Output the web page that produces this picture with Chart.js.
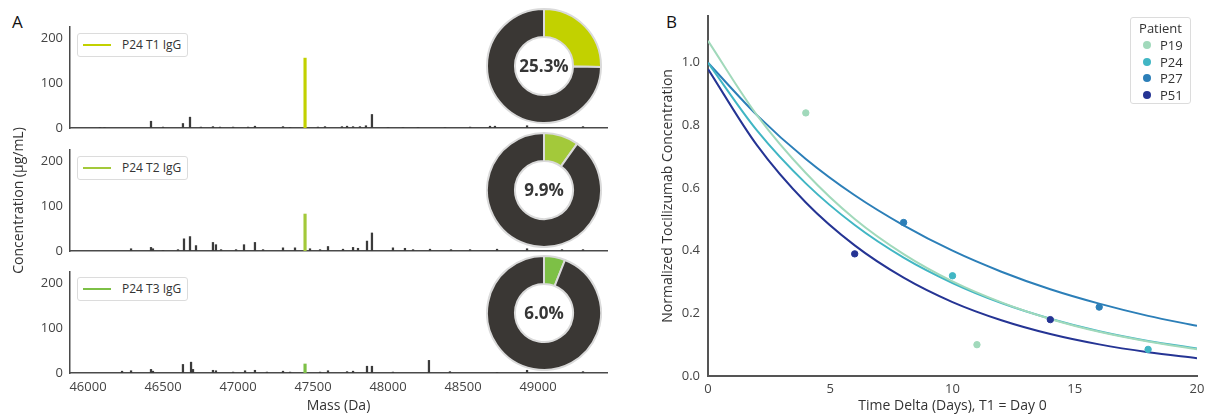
<!DOCTYPE html>
<html>
<head>
<meta charset="utf-8">
<title>IgG spectra and tocilizumab decay</title>
<script src="https://cdn.jsdelivr.net/npm/chart.js@4.4.1/dist/chart.umd.min.js"></script>
<style>
    body { margin: 0; width: 1213px; height: 414px; background: #fff; position: relative; overflow: hidden;
           font-family: "Open Sans", sans-serif; color: #333; }
    canvas { position: absolute; }
    .panel-tag { position: absolute; font-size: 17px; color: #111; line-height: 1; }
    .leg-a { position: absolute; left: 77px; width: 111px; height: 24px; border: 1px solid #dcdcdc;
             border-radius: 3px; box-sizing: border-box; font-size: 12px; background: #fff; }
    .leg-a .sw { position: absolute; left: 5px; top: 10px; width: 28px; height: 2px; }
    .leg-a .tx { position: absolute; left: 44px; top: 3px; line-height: 16px; }
    .leg-b { position: absolute; left: 1130px; top: 17px; width: 61px; height: 87px; border: 1px solid #dcdcdc;
             border-radius: 3px; box-sizing: border-box; font-size: 13px; background: #fff; }
    .leg-b .title { position: absolute; left: 0; width: 100%; top: 1px; text-align: center; line-height: 18px; }
    .leg-b .dot { position: absolute; left: 12px; width: 8px; height: 8px; border-radius: 50%; }
    .leg-b .tx { position: absolute; left: 29px; line-height: 16px; }
</style>
</head>
<body>
<div class="panel-tag" style="left:12px; top:13px;">A</div>
<div class="panel-tag" style="left:666px; top:13px;">B</div>

<canvas id="specT1" width="620" height="414" style="left:0; top:0;"></canvas>
<canvas id="specT2" width="620" height="414" style="left:0; top:0;"></canvas>
<canvas id="specT3" width="620" height="414" style="left:0; top:0;"></canvas>
<canvas id="donutT1" width="116" height="116" style="left:486px; top:8px;"></canvas>
<canvas id="donutT2" width="116" height="116" style="left:486px; top:132px;"></canvas>
<canvas id="donutT3" width="116" height="116" style="left:486px; top:255px;"></canvas>
<canvas id="decay" width="573" height="414" style="left:640px; top:0;"></canvas>

<div id="legendsA"></div>
<div class="leg-b" id="legendB"><div class="title">Patient</div></div>

<script>
// --- DATA: panel A ---
const spectraLabels = ['P24 T1 IgG', 'P24 T2 IgG', 'P24 T3 IgG'];
const spectraColors = ['#c2d100', '#a3c93a', '#7dc046'];
const drugMass = 47447;
const drugConc = [155, 82, 20];
const drugShare = [25.3, 9.9, 6.0];

// [mass (Da), concentration (µg/mL)] of the other IgG peaks
const t1Peaks = [
    [46080, 1], [46110, 1], [46420, 15], [46500, 2], [46633, 10], [46680, 24], [46753, 2],
    [46833, 3], [46880, 2], [46967, 2], [47067, 2], [47113, 4], [47300, 3], [47347, 1],
    [47533, 2], [47580, 3], [47693, 3], [47727, 4], [47767, 3], [47813, 3], [47853, 5],
    [47893, 30], [48000, 1], [48100, 1], [48200, 1], [48380, 1], [48547, 2], [48680, 4],
    [48713, 4], [48927, 5], [49300, 3]
];
const t2Peaks = [
    [46287, 5], [46420, 8], [46433, 5], [46500, 1], [46600, 3], [46640, 27], [46680, 32],
    [46720, 12], [46833, 19], [46853, 14], [46887, 3], [46987, 3], [47040, 14], [47113, 19],
    [47167, 3], [47300, 7], [47380, 7], [47480, 5], [47547, 3], [47600, 10], [47700, 4],
    [47767, 8], [47800, 6], [47860, 22], [47893, 40], [48033, 7], [48113, 6], [48167, 3],
    [48280, 4], [48420, 3], [48547, 3], [48727, 4], [48927, 5], [49160, 3], [49300, 3]
];
const t3Peaks = [
    [46227, 4], [46287, 5], [46420, 8], [46433, 4], [46633, 19], [46687, 24], [46700, 8],
    [46833, 6], [46853, 5], [46967, 2], [47047, 5], [47113, 6], [47193, 2], [47300, 4],
    [47347, 2], [47547, 2], [47600, 5], [47727, 3], [47767, 4], [47860, 15], [47893, 15],
    [48033, 2], [48273, 28], [48413, 3], [48727, 1], [48927, 6], [49300, 3]
];
const massTicks = [46000, 46500, 47000, 47500, 48000, 48500, 49000];
const concTicks = [0, 100, 200];

// --- DATA: panel B ---
const patients = ['P19', 'P24', 'P27', 'P51'];
const patientColors = ['#a1d9bb', '#41b6c4', '#2c7fb8', '#253494'];
const sampleDays = [[4, 11], [10, 18], [8, 16], [6, 14]];
const sampleConc = [[0.84, 0.10], [0.32, 0.085], [0.49, 0.22], [0.39, 0.18]];
const fitDays = [0, 2, 4, 6, 8, 10, 12, 14, 16, 18, 20];
const fitConc = [
    [1.07, 0.833, 0.648, 0.501, 0.389, 0.302, 0.235, 0.182, 0.141, 0.110, 0.085],
    [1.00, 0.784, 0.615, 0.482, 0.378, 0.297, 0.233, 0.183, 0.143, 0.112, 0.088],
    [1.00, 0.833, 0.693, 0.577, 0.481, 0.400, 0.333, 0.277, 0.231, 0.192, 0.160],
    [0.98, 0.737, 0.554, 0.417, 0.314, 0.236, 0.178, 0.134, 0.101, 0.076, 0.057]
];
const dayTicks = [0, 5, 10, 15, 20];
const normTicks = [0, 0.2, 0.4, 0.6, 0.8, 1.0];

// --- SETUP ---
Chart.defaults.font.family = '"Open Sans", sans-serif';
Chart.defaults.color = '#444';
Chart.defaults.animation = false;

const axisColor = '#4a4a4a';
const tickFont = { size: 13 };
const titleFont = { size: 14 };

const centerLabel = {
    id: 'centerLabel',
    afterDraw(chart, args, opts) {
        const { ctx, chartArea } = chart;
        ctx.save();
        ctx.font = 'bold 17px "Open Sans", sans-serif';
        ctx.fillStyle = '#363636';
        ctx.textAlign = 'center';
        ctx.textBaseline = 'middle';
        ctx.fillText(opts.text, (chartArea.left + chartArea.right) / 2, (chartArea.top + chartArea.bottom) / 2 + 1);
        ctx.restore();
    }
};

// --- PANEL A: spectra ---
const spectra = [
    { id: 'specT1', peaks: t1Peaks, padTop: 27, padBottom: 279, xHeight: 7, last: false, yTitle: false },
    { id: 'specT2', peaks: t2Peaks, padTop: 150, padBottom: 156, xHeight: 7, last: false, yTitle: true },
    { id: 'specT3', peaks: t3Peaks, padTop: 272, padBottom: 0, xHeight: 41, last: true, yTitle: false }
];

spectra.forEach((s, i) => {
    new Chart(document.getElementById(s.id), {
        type: 'bar',
        data: {
            datasets: [{
                label: spectraLabels[i],
                data: [{ x: drugMass, y: drugConc[i] }],
                backgroundColor: spectraColors[i],
                barThickness: 2.5,
                grouped: false
            }, {
                label: 'other',
                data: s.peaks.map(p => ({ x: p[0], y: p[1] })),
                backgroundColor: '#3b3b3b',
                barThickness: 1.6,
                grouped: false
            }]
        },
        options: {
            responsive: false,
            layout: { padding: { left: 11, right: 13, top: s.padTop, bottom: s.padBottom } },
            plugins: { legend: { display: false }, tooltip: { enabled: false } },
            scales: {
                x: {
                    type: 'linear', min: 45880, max: 49460, offset: false,
                    grid: { display: false, drawTicks: false },
                    border: { color: axisColor, width: 1.5 },
                    ticks: { display: s.last, font: tickFont, padding: 6, maxRotation: 0, callback: v => String(v) },
                    title: { display: s.last, text: 'Mass (Da)', font: titleFont, color: '#333', padding: 0 },
                    afterBuildTicks: sc => { sc.ticks = massTicks.map(v => ({ value: v })); },
                    afterFit: sc => { sc.height = s.xHeight; }
                },
                y: {
                    min: 0, max: 224,
                    grid: { display: false, drawTicks: false },
                    border: { color: axisColor, width: 1.5 },
                    ticks: { font: tickFont, padding: 7 },
                    title: { display: s.yTitle, text: 'Concentration (µg/mL)', font: titleFont, color: '#333', padding: 0 },
                    afterBuildTicks: sc => { sc.ticks = concTicks.map(v => ({ value: v })); },
                    afterFit: sc => { sc.width = 59; }
                }
            }
        }
    });

    const leg = document.createElement('div');
    leg.className = 'leg-a';
    leg.style.top = [33, 156, 277][i] + 'px';
    leg.innerHTML = `<div class="sw" style="background:${spectraColors[i]}"></div><div class="tx">${spectraLabels[i]}</div>`;
    document.getElementById('legendsA').appendChild(leg);

    new Chart(document.getElementById('donut' + s.id.slice(4)), {
        type: 'doughnut',
        data: {
            labels: [spectraLabels[i], 'Other IgG'],
            datasets: [{
                data: [drugShare[i], 100 - drugShare[i]],
                backgroundColor: [spectraColors[i], '#3a3734'],
                borderColor: '#dadada',
                borderWidth: 2
            }]
        },
        options: {
            responsive: false,
            cutout: '51%',
            layout: { padding: 0 },
            plugins: {
                legend: { display: false },
                tooltip: { enabled: false },
                centerLabel: { text: drugShare[i].toFixed(1) + '%' }
            }
        },
        plugins: [centerLabel]
    });
});

// --- PANEL B: decay curves ---
const decayDatasets = [];
patients.forEach((p, i) => {
    decayDatasets.push({
        label: p,
        data: sampleDays[i].map((d, j) => ({ x: d, y: sampleConc[i][j] })),
        backgroundColor: patientColors[i],
        borderColor: patientColors[i],
        pointRadius: 3.2,
        showLine: false
    });
});
patients.forEach((p, i) => {
    decayDatasets.push({
        label: p + ' fit',
        data: fitDays.map((d, j) => ({ x: d, y: fitConc[i][j] })),
        borderColor: patientColors[i],
        borderWidth: 2,
        pointRadius: 0,
        showLine: true,
        cubicInterpolationMode: 'monotone'
    });
});

new Chart(document.getElementById('decay'), {
    type: 'scatter',
    data: { datasets: decayDatasets },
    options: {
        responsive: false,
        layout: { padding: { left: 20, right: 16, top: 10, bottom: 0 } },
        plugins: { legend: { display: false }, tooltip: { enabled: false } },
        scales: {
            x: {
                type: 'linear', min: 0, max: 20,
                grid: { display: false, drawTicks: false },
                border: { color: '#555', width: 2 },
                ticks: { font: tickFont, padding: 5 },
                title: { display: true, text: 'Time Delta (Days), T1 = Day 0', font: titleFont, color: '#333', padding: 0 },
                afterBuildTicks: sc => { sc.ticks = dayTicks.map(v => ({ value: v })); },
                afterFit: sc => { sc.height = 38; }
            },
            y: {
                min: 0, max: 1.15,
                grid: { display: false, drawTicks: false },
                border: { color: '#555', width: 2 },
                ticks: { font: tickFont, padding: 8, callback: v => v.toFixed(1) },
                title: { display: true, text: 'Normalized Tocilizumab Concentration', font: titleFont, color: '#333', padding: 0 },
                afterBuildTicks: sc => { sc.ticks = normTicks.map(v => ({ value: v })); },
                afterFit: sc => { sc.width = 48; }
            }
        }
    }
});

// legend for panel B
const legendB = document.getElementById('legendB');
patients.forEach((p, i) => {
    const top = 27 + i * 16.7;
    legendB.insertAdjacentHTML('beforeend',
        `<div class="dot" style="top:${top - 4}px; background:${patientColors[i]}"></div>` +
        `<div class="tx" style="top:${top - 8}px">${p}</div>`);
});
</script>
</body>
</html>
